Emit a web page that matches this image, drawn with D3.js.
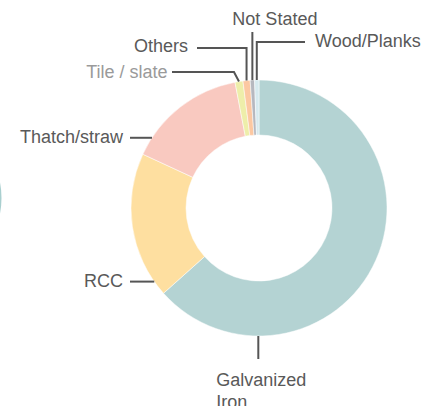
<!DOCTYPE html>
<html>
<head>
<meta charset="utf-8">
<script src="https://cdn.jsdelivr.net/npm/d3@7"></script>
<style>
	body { margin: 0; background: #fff; overflow: hidden; }
	svg { display: block; font-family: "Liberation Sans", Arial, sans-serif; }
</style>
</head>
<body>
<svg id="donut"></svg>
<script>
// roof material shares (%)
var categories = ["Galvanized Iron", "RCC", "Thatch/straw", "Tile / slate", "Others", "Not Stated", "Wood/Planks"];
var values = [63.4, 18.5, 15.1, 1.0, 0.9, 0.55, 0.55];
var colors = ["#b4d3d3", "#fedfa0", "#f9c9c0", "#eeeeaa", "#fcc8a2", "#b6b8bf", "#d6eaef"];

const width = 423;
const height = 406;
const cx = 259, cy = 208;
const outerR = 128, innerR = 73;

var svg = d3.select("#donut").attr("width", width).attr("height", height);

// cut-off ring at the left edge
svg.append("circle")
	.attr("cx", -80).attr("cy", 198).attr("r", 80.5)
	.attr("fill", "none").attr("stroke", "#a9cfcf").attr("stroke-width", 2);

var pie = d3.pie().sort(null).value(function (d) { return d; });
var arcs = pie(values);
var arc = d3.arc().innerRadius(innerR).outerRadius(outerR);

var g = svg.append("g").attr("transform", "translate(" + cx + "," + cy + ")");

g.selectAll("path")
	.data(arcs)
	.enter()
	.append("path")
	.attr("d", arc)
	.attr("fill", function (d, i) { return colors[i]; })
	.attr("stroke", "#fff")
	.attr("stroke-width", 0.5);

// label layout: where on the slice the connector starts and how it bends
var layout = [
	{ frac: 0.79, kind: "down" },
	{ frac: 0.10, kind: "left" },
	{ frac: 0.155, kind: "left" },
	{ frac: 0.5, kind: "diagLeft", y: 72, x: 172 },
	{ frac: 0.5, kind: "upLeft", y: 48, x: 197 },
	{ frac: 0.5, kind: "up", y: 32 },
	{ frac: 0.5, kind: "upRight", y: 42, x: 305 }
];

function anchor(d, frac) {
	var a = d.startAngle + frac * (d.endAngle - d.startAngle);
	return [cx + outerR * Math.sin(a), cy - outerR * Math.cos(a)];
}

var lines = svg.append("g");
var labels = svg.append("g").attr("font-size", 18).attr("fill", "#595959");

arcs.forEach(function (d, i) {
	var l = layout[i];
	var p = anchor(d, l.frac);
	var pts, tx, ty, anchorText = "start";
	if (l.kind == "down") {
		pts = [p, [p[0], p[1] + 23]];
		tx = p[0] - 42; ty = p[1] + 50;
	} else if (l.kind == "left") {
		pts = [p, [130, p[1]]];
		tx = 123; ty = p[1] + 5.5; anchorText = "end";
	} else if (l.kind == "diagLeft") {
		pts = [p, [p[0] - 5, l.y], [l.x, l.y]];
		tx = l.x - 4.5; ty = l.y + 5.5; anchorText = "end";
	} else if (l.kind == "upLeft") {
		pts = [p, [p[0], l.y], [l.x, l.y]];
		tx = l.x - 9; ty = l.y + 4; anchorText = "end";
	} else if (l.kind == "up") {
		pts = [p, [p[0], l.y]];
		tx = p[0] - 20; ty = l.y - 7.5;
	} else {
		pts = [p, [p[0], l.y], [l.x, l.y]];
		tx = l.x + 10; ty = l.y + 5;
	}

	lines.append("path")
		.attr("d", d3.line()(pts))
		.attr("fill", "none")
		.attr("stroke", "#555")
		.attr("stroke-width", 2);

	var t = labels.append("text")
		.attr("x", tx).attr("y", ty)
		.attr("text-anchor", anchorText)
		.attr("fill", i == 3 ? "#9a9a9a" : null);

	if (l.kind == "down") {
		var words = categories[i].split(" ");
		words.forEach(function (w, k) {
			t.append("tspan").attr("x", tx).attr("dy", k == 0 ? 0 : 22).text(w);
		});
	} else {
		t.text(categories[i]);
	}
});
</script>
</body>
</html>
